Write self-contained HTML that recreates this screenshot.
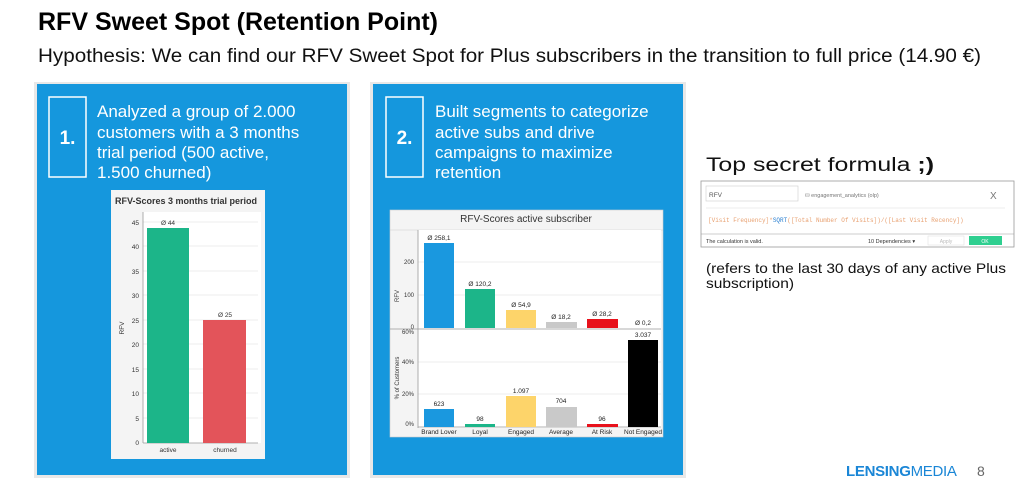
<!DOCTYPE html>
<html><head><meta charset="utf-8"><style>
html,body{margin:0;padding:0;background:#fff;}
body{width:1024px;height:494px;overflow:hidden;font-family:"Liberation Sans","DejaVu Sans",sans-serif;}
</style></head><body>
<svg width="1024" height="494" xmlns="http://www.w3.org/2000/svg" font-family="Liberation Sans, DejaVu Sans, sans-serif">
<text x="38" y="30" font-size="25" font-weight="bold" fill="#000">RFV Sweet Spot (Retention Point)</text>
<text x="38" y="62" font-size="19" fill="#111" textLength="943" lengthAdjust="spacingAndGlyphs">Hypothesis: We can find our RFV Sweet Spot for Plus subscribers in the transition to full price (14.90 €)</text>

<!-- panel 1 -->
<rect x="34" y="82" width="316" height="396" fill="#e8e8e8"/>
<rect x="37" y="84" width="310" height="391" fill="#1597dd"/>
<rect x="49" y="97" width="37" height="80" fill="none" stroke="#fff" stroke-width="1.5"/>
<text x="67.5" y="144" font-size="19" font-weight="bold" fill="#fff" text-anchor="middle">1.</text>
<g font-size="17" fill="#fff">
<text x="97" y="117">Analyzed a group of 2.000</text>
<text x="97" y="138">customers with a 3 months</text>
<text x="97" y="158">trial period (500 active,</text>
<text x="97" y="178">1.500 churned)</text>
</g>
<rect x="111" y="190" width="154" height="269" fill="#f4f4f4"/>
<text x="186" y="204" font-size="9" font-weight="bold" fill="#333" text-anchor="middle" textLength="142" lengthAdjust="spacingAndGlyphs">RFV-Scores 3 months trial period</text>
<rect x="143" y="212" width="118" height="231" fill="#fff"/>
<g stroke="#e6e6e6" stroke-width="0.7">
<line x1="143" y1="222" x2="258" y2="222"/><line x1="143" y1="246" x2="258" y2="246"/><line x1="143" y1="271" x2="258" y2="271"/><line x1="143" y1="295" x2="258" y2="295"/><line x1="143" y1="320" x2="258" y2="320"/><line x1="143" y1="344" x2="258" y2="344"/><line x1="143" y1="369" x2="258" y2="369"/><line x1="143" y1="393" x2="258" y2="393"/><line x1="143" y1="418" x2="258" y2="418"/>
</g>
<line x1="143" y1="212" x2="143" y2="443" stroke="#999" stroke-width="0.8"/>
<line x1="143" y1="443" x2="258" y2="443" stroke="#999" stroke-width="0.8"/>
<g font-size="6.5" fill="#333" text-anchor="end">
<text x="139" y="225">45</text><text x="139" y="249">40</text><text x="139" y="274">35</text><text x="139" y="298">30</text><text x="139" y="323">25</text><text x="139" y="347">20</text><text x="139" y="372">15</text><text x="139" y="396">10</text><text x="139" y="421">5</text><text x="139" y="445">0</text>
</g>
<text x="124" y="328" font-size="6.5" fill="#333" transform="rotate(-90 124 328)" text-anchor="middle">RFV</text>
<rect x="147" y="228" width="42" height="215" fill="#1cb589"/>
<rect x="203" y="320" width="43" height="123" fill="#e3545a"/>
<g font-size="6.5" fill="#333" text-anchor="middle">
<text x="168" y="225">Ø 44</text><text x="225" y="317">Ø 25</text>
<text x="168" y="452">active</text><text x="225" y="452">churned</text>
</g>

<!-- panel 2 -->
<rect x="370" y="82" width="316" height="396" fill="#e8e8e8"/>
<rect x="373" y="84" width="310" height="391" fill="#1597dd"/>
<rect x="386" y="97" width="37" height="80" fill="none" stroke="#fff" stroke-width="1.5"/>
<text x="404.5" y="144" font-size="19" font-weight="bold" fill="#fff" text-anchor="middle">2.</text>
<g font-size="17" fill="#fff">
<text x="435" y="117">Built segments to categorize</text>
<text x="435" y="138">active subs and drive</text>
<text x="435" y="158">campaigns to maximize</text>
<text x="435" y="178">retention</text>
</g>
<rect x="390" y="210" width="273" height="227" fill="#f4f4f4" stroke="#ccc" stroke-width="0.6"/>
<text x="526" y="222" font-size="10" fill="#333" text-anchor="middle">RFV-Scores active subscriber</text>
<line x1="390" y1="230" x2="663" y2="230" stroke="#ccc" stroke-width="0.6"/>
<rect x="418" y="230" width="243" height="198" fill="#fff"/>
<g stroke="#e6e6e6" stroke-width="0.7">
<line x1="418" y1="262" x2="661" y2="262"/><line x1="418" y1="295" x2="661" y2="295"/>
<line x1="418" y1="362" x2="661" y2="362"/><line x1="418" y1="394" x2="661" y2="394"/>
</g>
<line x1="418" y1="230" x2="418" y2="428" stroke="#999" stroke-width="0.8"/>
<line x1="390" y1="329" x2="661" y2="329" stroke="#999" stroke-width="0.8"/>
<line x1="418" y1="427" x2="661" y2="427" stroke="#999" stroke-width="0.8"/>
<g font-size="6" fill="#333" text-anchor="end">
<text x="414" y="264">200</text><text x="414" y="297">100</text><text x="414" y="329">0</text>
<text x="414" y="334">60%</text><text x="414" y="364">40%</text><text x="414" y="396">20%</text><text x="414" y="426">0%</text>
</g>
<text x="399" y="296" font-size="6" fill="#333" transform="rotate(-90 399 296)" text-anchor="middle">RFV</text>
<text x="399" y="378" font-size="6" fill="#333" transform="rotate(-90 399 378)" text-anchor="middle">% of Customers</text>
<rect x="424" y="243" width="30" height="85" fill="#1a98df"/>
<rect x="465" y="289" width="30" height="39" fill="#1cb589"/>
<rect x="506" y="310" width="30" height="18" fill="#fdd46a"/>
<rect x="546" y="322" width="31" height="6" fill="#c9c9c9"/>
<rect x="587" y="319" width="31" height="9" fill="#e8111b"/>
<g font-size="6.5" fill="#222" text-anchor="middle">
<text x="439" y="240">Ø 258,1</text><text x="480" y="286">Ø 120,2</text><text x="521" y="307">Ø 54,9</text><text x="561" y="319">Ø 18,2</text><text x="602" y="316">Ø 28,2</text><text x="643" y="325">Ø 0,2</text>
</g>
<rect x="424" y="409" width="30" height="18" fill="#1a98df"/>
<rect x="465" y="424" width="30" height="3" fill="#1cb589"/>
<rect x="506" y="396" width="30" height="31" fill="#fdd46a"/>
<rect x="546" y="407" width="31" height="20" fill="#c9c9c9"/>
<rect x="587" y="424" width="31" height="3" fill="#e8111b"/>
<rect x="628" y="340" width="30" height="87" fill="#000"/>
<g font-size="6.5" fill="#222" text-anchor="middle">
<text x="439" y="406">623</text><text x="480" y="421">98</text><text x="521" y="393">1.097</text><text x="561" y="403">704</text><text x="602" y="421">96</text><text x="643" y="337">3.037</text>
<text x="439" y="434">Brand Lover</text><text x="480" y="434">Loyal</text><text x="521" y="434">Engaged</text><text x="561" y="434">Average</text><text x="602" y="434">At Risk</text><text x="643" y="434">Not Engaged</text>
</g>

<!-- right side -->
<text x="706" y="171" font-size="19" fill="#111" textLength="228" lengthAdjust="spacingAndGlyphs">Top secret formula <tspan font-weight="bold">;)</tspan></text>
<rect x="701" y="181" width="313" height="66" fill="#fff" stroke="#999" stroke-width="0.8"/>
<rect x="706" y="186" width="92" height="15" fill="#fff" stroke="#ccc" stroke-width="0.6"/>
<text x="709" y="197" font-size="6.5" fill="#555">RFV</text>
<text x="805" y="197" font-size="5.5" fill="#777">⛁ engagement_analytics (olp)</text>
<text x="990" y="199" font-size="10" fill="#777">X</text>
<line x1="706" y1="208" x2="1005" y2="208" stroke="#ddd" stroke-width="0.6"/>
<text x="708" y="222" font-size="6" font-family="Liberation Mono, monospace" fill="#e8a070">[Visit Frequency]*<tspan fill="#2a7fd0">SQRT</tspan>([Total Number Of Visits])/([Last Visit Recency])</text>
<line x1="701" y1="234" x2="1014" y2="234" stroke="#999" stroke-width="0.6"/>
<text x="706" y="243" font-size="5.5" fill="#333">The calculation is valid.</text>
<text x="868" y="243" font-size="5.5" fill="#333">10 Dependencies ▾</text>
<rect x="928" y="236" width="36" height="9" fill="#fff" stroke="#ddd" stroke-width="0.5"/>
<text x="946" y="243" font-size="5" fill="#bbb" text-anchor="middle">Apply</text>
<rect x="969" y="236" width="33" height="9" fill="#2fcf90"/>
<text x="985" y="243" font-size="5" fill="#fff" text-anchor="middle">OK</text>
<text x="706" y="273" font-size="14" fill="#111" textLength="300" lengthAdjust="spacingAndGlyphs">(refers to the last 30 days of any active Plus</text>
<text x="706" y="288" font-size="14" fill="#111" textLength="88" lengthAdjust="spacingAndGlyphs">subscription)</text>

<text x="846" y="476" font-size="15" font-weight="bold" fill="#1a86d6" letter-spacing="-0.3">LENSING<tspan font-weight="normal">MEDIA</tspan></text>
<text x="977" y="476" font-size="14" fill="#666">8</text>
</svg>
</body></html>
